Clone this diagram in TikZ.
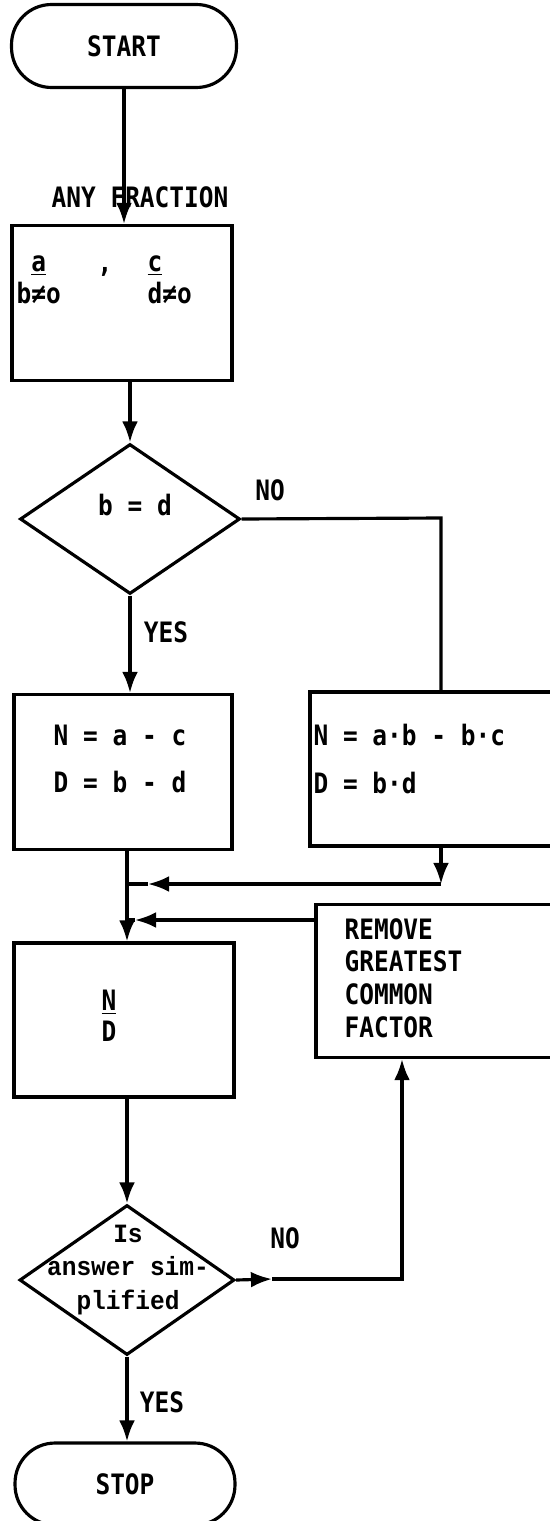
\documentclass[tikz,border=0pt]{standalone}
\usepackage{fontspec}
\setmainfont{DejaVu Sans Mono}[FakeStretch=0.87]
\newfontfamily\typefont{Liberation Mono}[FakeStretch=0.93]
\usetikzlibrary{shapes.geometric,arrows.meta}

\tikzset{
  txt/.style={draw=none, inner sep=0pt, font=\fontsize{16}{18}\selectfont\bfseries},
  box/.style={draw, minimum width=4.4cm, minimum height=3.1cm},
  term/.style={draw, rounded corners=0.8cm, minimum width=4.5cm, minimum height=1.66cm,
    font=\fontsize{16}{18}\selectfont\bfseries},
  test/.style={draw, diamond, inner sep=0pt, minimum width=4.4cm, minimum height=3cm},
  arr/.style={-{Latex[length=12pt,width=9pt]}},
}

\begin{document}
\begin{tikzpicture}[x=0.02cm, y=-0.02cm, line width=1.8pt]
             \useasboundingbox (0,0) rectangle (549,1521);

             % boxes down the left side
             \node[term] (start) at (124,46) {START};
             \node[box] (box1) at (122,303) {};
             \node[test] (dec1) at (130,519) {};
             \node[box, minimum width=4.36cm] (box2) at (123,772) {};
             \node[box, minimum height=3.08cm] (box4) at (124,1020) {};
             \node[test, minimum width=4.3cm] (dec2) at (127,1280) {};
             \node[term, minimum width=4.4cm, minimum height=1.64cm] (stop) at (125,1484) {STOP};

             % boxes on the right
             \node[box, minimum width=5.2cm, minimum height=3.08cm] (box3) at (440,769) {};
             \node[box, minimum width=5.08cm, minimum height=3.06cm] (remove) at (443,981) {};

             % texts
             \node[txt] (anyfrac) at (140,197) {ANY FRACTION};
             \node[txt, anchor=west] (fracab) at (15,280) {\shortstack[l]{\ \underline{a}\\[1pt]b≠o}};
             \node[txt] (comma) at (105,272) {,};
             \node[txt, anchor=west] (fraccd) at (146,280) {\shortstack[l]{\underline{c}\\[1pt]d≠o}};
             \node[txt] (beqd) at (135,505) {b = d};
             \node[txt, align=left] (diffsame) at (120,759) {N = a - c\\[9pt]D = b - d};
             \node[txt, align=left, anchor=west] (diffcross) at (312,759) {N = a·b - b·c\\[9pt]D = b·d};
             \node[txt, align=left, anchor=west, font=\fontsize{16}{18.5}\selectfont\bfseries]
               (gcf) at (343,978) {REMOVE\\GREATEST\\COMMON\\FACTOR};
             \node[txt] (ndfrac) at (109,1016) {\shortstack{\underline{N}\\[1pt]D}};
             \node[txt, align=center, font=\fontsize{15}{19}\typefont\bfseries]
               (simple) at (128,1270) {Is\\answer sim-\\plified};
             \node[txt] (no1) at (270,490) {NO};
             \node[txt] (yes1) at (166,632) {YES};
             \node[txt] (no2) at (285,1238) {NO};
             \node[txt] (yes2) at (162,1402) {YES};

             % turning points of the connectors
             \coordinate (noturn) at (441,518);
             \coordinate (joinc) at (441,884);
             \coordinate (join1) at (127,884);
             \coordinate (tip1) at (148,884);
             \coordinate (join2) at (127,920);
             \coordinate (tip2) at (135,920);
             \coordinate (tip3) at (272,1279);
             \coordinate (noturn2) at (402,1279);

             \draw[arr] (start.south) -- (start.south |- box1.north);
             \draw[arr] (box1.south -| dec1.north) -- (dec1.north);
             \draw[arr] (dec1.south) -- (dec1.south |- box2.north);
             \draw (dec1.east) -- (noturn) -- (noturn |- box3.north);
             \draw[arr] (noturn |- box3.south) -- (joinc);
             \draw[arr] (joinc) -- (tip1);
             \draw (tip1) -- (join1);
             \draw[arr] (remove.west |- join2) -- (tip2);
             \draw (tip2) -- (join2);
             \draw[arr] (box2.south -| join1) -- (box4.north -| join1);
             \draw[arr] (box4.south -| dec2.north) -- (dec2.north);
             \draw[arr] (dec2.east) -- (tip3);
             \draw[arr] (tip3) -- (noturn2) -- (noturn2 |- remove.south);
             \draw[arr] (dec2.south) -- (dec2.south |- stop.north);
\end{tikzpicture}
\end{document}
